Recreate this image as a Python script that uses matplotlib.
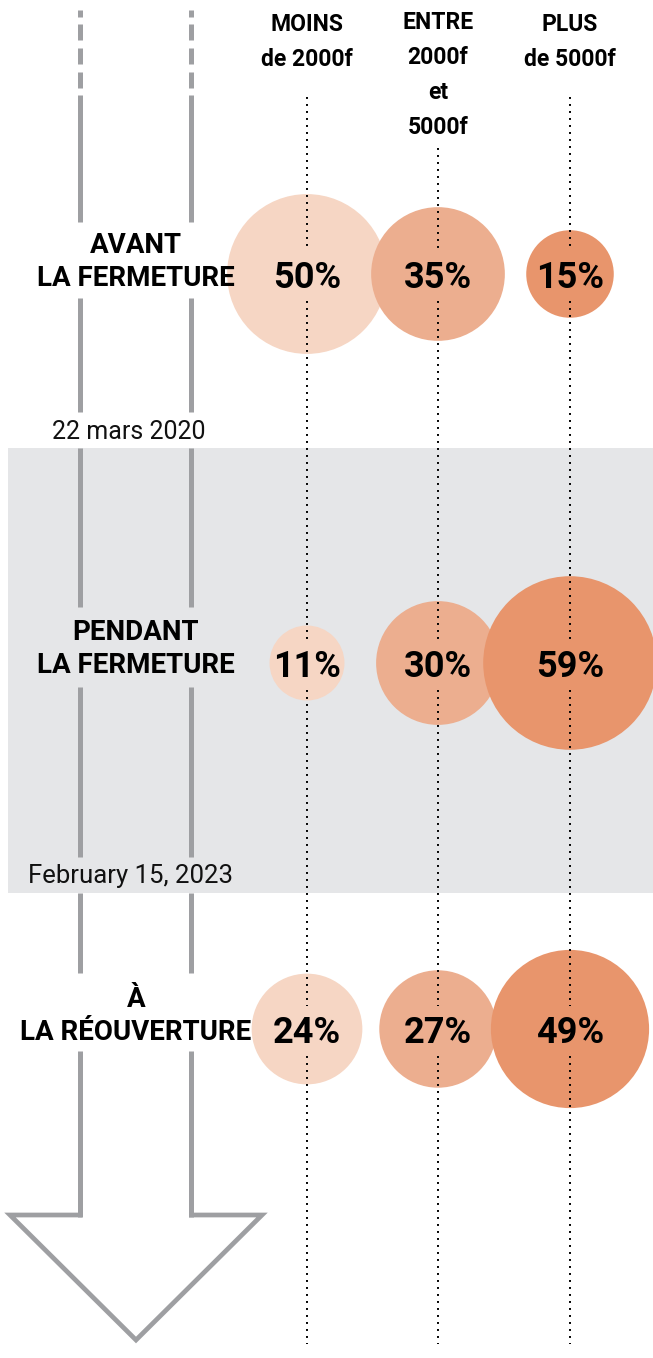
import numpy as np
import matplotlib
matplotlib.use("Agg")
import matplotlib.pyplot as plt
from matplotlib.patches import Circle, Rectangle

# ---------------- data ----------------
categories = ["MOINS\nde 2000f", "ENTRE\n2000f\net\n5000f", "PLUS\nde 5000f"]
periods = ["AVANT\nLA FERMETURE", "PENDANT\nLA FERMETURE", "À\nLA RÉOUVERTURE"]
avant = [50, 35, 15]
pendant = [11, 30, 59]
reouverture = [24, 27, 49]
dates = ["22 mars 2020", "February 15, 2023"]

values = [avant, pendant, reouverture]

# ---------------- style ----------------
W, H = 653, 1358
plt.rcParams['font.family'] = ['Roboto', 'DejaVu Sans']
colors = ["#F6D6C4", "#ECAE8F", "#E8956C"]
gray = "#9E9FA2"
band = "#E5E6E8"

fig = plt.figure(figsize=(W / 100, H / 100), dpi=100)
ax = fig.add_axes([0, 0, 1, 1])
ax.set_xlim(0, W)
ax.set_ylim(H, 0)
ax.set_aspect('equal')
ax.axis('off')

col_x = [307, 438, 570]
row_y = [274, 663, 1029]
k = 11.3  # radius scale (area proportional)

# gray band for the closure period
ax.add_patch(Rectangle((8, 448), W - 8, 445, facecolor=band, edgecolor='none', zorder=0))

# timeline double line
lw_tl = 3.6
for x in (80, 191):
    ax.plot([x, x], [10, 17], color=gray, lw=lw_tl, solid_capstyle='butt', zorder=1)
    for y0 in (24, 48, 72):
        ax.plot([x, x], [y0, y0 + 16], color=gray, lw=lw_tl, solid_capstyle='butt', zorder=1)
    segs = [(95, 222), (298, 412), (448, 607), (687, 857), (893, 973), (1051, 1217)]
    for a, b in segs:
        ax.plot([x, x], [a, b], color=gray, lw=lw_tl, solid_capstyle='butt', zorder=1)
# arrow head
ax.plot([82, 10, 136, 262, 189], [1215, 1215, 1340, 1215, 1215], color=gray, lw=3.4,
        solid_joinstyle='miter', solid_capstyle='butt', zorder=1)

# circles
for r, (vals, yc) in enumerate(zip(values, row_y)):
    for c, (v, xc) in enumerate(zip(vals, col_x)):
        ax.add_patch(Circle((xc, yc), k * np.sqrt(v), facecolor=colors[c],
                            edgecolor='none', zorder=2))
        ax.text(xc, yc + 4, f"{v}%", ha='center', va='center', fontsize=26,
                fontweight='bold', color='black', zorder=4)

# dotted guide lines
starts = [97, 148, 97]
for c, xc in enumerate(col_x):
    y_prev = starts[c]
    for yc in row_y:
        ax.plot([xc, xc], [y_prev, yc - 23], color='black', lw=1.4,
                linestyle=(0, (1, 2.6)), zorder=3)
        y_prev = yc + 27
    ax.plot([xc, xc], [y_prev, 1344], color='black', lw=1.4,
            linestyle=(0, (1, 2.6)), zorder=3)

# column headers
hdr_y = [42, 75, 42]
for cat, xc, hy in zip(categories, col_x, hdr_y):
    ax.text(xc, hy, cat, ha='center', va='center', fontsize=16.5,
            fontweight='bold', linespacing=1.66)

# period labels
label_y = [262, 649, 1016]
for p, ly in zip(periods, label_y):
    ax.text(136, ly, p, ha='center', va='center', fontsize=20, fontweight='bold',
            linespacing=1.29, zorder=5)

# dates
ax.text(129, 432, dates[0], ha='center', va='center', fontsize=18, color='#111111')
ax.text(130, 876, dates[1], ha='center', va='center', fontsize=18.5, color='#111111')

fig.savefig("out.png", dpi=100, facecolor='white')
